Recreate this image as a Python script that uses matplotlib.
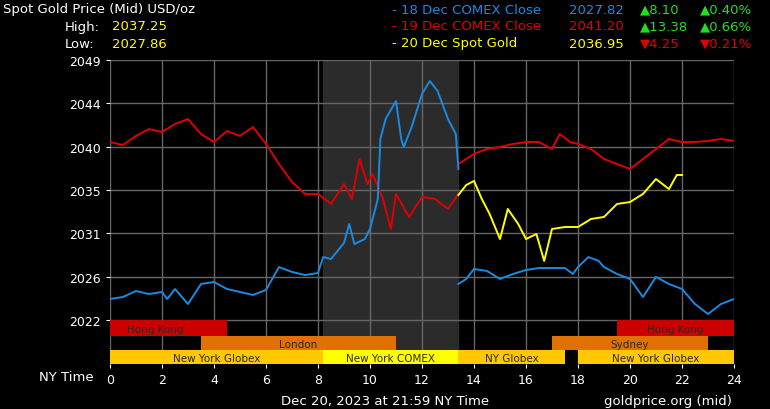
import matplotlib
matplotlib.use("Agg")
import matplotlib.pyplot as plt
import numpy as np

def v(py):
    return [round(2049 - (p - 61) / 9.63, 2) for p in py]

blue1_t = [0,0.5,1,1.5,2,2.2,2.5,3,3.5,4,4.5,5,5.5,6,6.5,7,7.5,8,8.2,8.5,9,9.2,9.4,9.8,10,10.3,10.4,10.6,11,11.2,11.3,11.6,12,12.3,12.6,13,13.3,13.4]
blue1_y = v([300,298,292,295,293,300,290,305,285,283,290,293,296,291,268,273,276,274,258,260,244,225,245,240,230,200,140,120,102,140,148,128,95,82,92,120,135,170])
blue2_t = [13.4,13.7,14,14.5,15,15.5,16,16.5,17,17.5,17.8,18,18.4,18.8,19,19.5,20,20.5,21,21.5,22,22.5,23,23.5,24]
blue2_y = v([285,280,270,272,280,275,271,269,269,269,275,268,258,262,268,275,280,298,278,285,290,305,315,305,300])
red1_t = [0,0.5,1,1.5,2,2.5,3,3.5,4,4.5,5,5.5,6,6.5,7,7.5,8,8.5,9,9.3,9.6,9.9,10.1,10.5,10.8,11,11.5,12,12.5,13,13.4]
red1_y = v([143,146,137,130,133,125,120,135,143,132,137,128,145,165,183,195,195,205,185,200,160,185,175,200,230,195,218,198,200,210,195])
red2_t = [13.4,14,14.5,15,15.5,16,16.5,17,17.3,17.7,18,18.5,19,19.5,20,20.5,21,21.5,22,22.5,23,23.5,24]
red2_y = v([165,155,150,148,145,143,143,150,135,143,145,150,160,165,170,160,150,140,143,143,142,140,142])
yel_t = [13.4,13.7,14,14.3,14.6,15,15.3,15.7,16,16.4,16.7,17,17.5,18,18.5,19,19.5,20,20.5,21,21.5,21.8,22]
yel_y = v([196,186,182,200,215,240,210,225,240,235,262,230,228,228,220,218,205,203,195,180,190,176,176])

yticks = [2022, 2026.5, 2031, 2035.5, 2040, 2044.5, 2049]
xticks = list(range(0, 25, 2))

sessions = [
    (2, 0, 4.5, "Hong Kong", "#cc0000"), (2, 19.5, 24, "Hong Kong", "#cc0000"),
    (1, 3.5, 11, "London", "#e07000"), (1, 17, 23, "Sydney", "#e07000"),
    (0, 0, 8.2, "New York Globex", "#ffc800"), (0, 8.2, 13.4, "New York COMEX", "#ffff00"),
    (0, 13.4, 17.5, "NY Globex", "#ffc800"), (0, 18, 24, "New York Globex", "#ffc800"),
]

fig = plt.figure(figsize=(7.7, 4.1), dpi=100, facecolor="black")
ax = fig.add_axes([110/770, 45/410, 624/770, 304/410], facecolor="black")
ymin = 2022 - 44/9.63
ax.set_xlim(0, 24); ax.set_ylim(ymin, 2049)
ax.axvspan(8.2, 13.4, color="#2b2b2b", zorder=0)
for x in xticks:
    ax.axvline(x, color="#666666", lw=1, zorder=1)
for y in yticks:
    ax.axhline(y, color="#666666", lw=1, zorder=1)
rows = [(0, 14/304), (14/304, 28/304), (28/304, 44/304)]
trans = ax.get_xaxis_transform()
for r, s, e, lab, c in sessions:
    y0, y1 = rows[r]
    ax.add_patch(plt.Rectangle((s, y0), e - s, y1 - y0, transform=trans, color=c, zorder=2, lw=0))
    ax.text((s + e) / 2 - (0.5 if lab == "Hong Kong" and s == 0 else 0), (y0 + y1) / 2 - 0.003, lab,
            transform=trans, ha="center", va="center", fontsize=7.5, color="#2a2a2a", zorder=3)
ax.plot(red1_t, red1_y, color="#e00000", lw=1.4, zorder=4)
ax.plot(red2_t, red2_y, color="#e00000", lw=1.4, zorder=4)
ax.plot(blue1_t, blue1_y, color="#1a8ae0", lw=1.4, zorder=4)
ax.plot(blue2_t, blue2_y, color="#1a8ae0", lw=1.4, zorder=4)
ax.plot(yel_t, yel_y, color="#ffff00", lw=1.4, zorder=5)
ax.set_xticks(xticks); ax.set_xticklabels([str(x) for x in xticks])
ax.set_yticks(yticks); ax.set_yticklabels([str(int(y)) for y in yticks])
ax.tick_params(colors="white", labelsize=9, length=3)
for sp in ax.spines.values():
    sp.set_visible(False)

W, H = 770, 410
def T(x, y, s, c="white", ha="left", size=9.5):
    fig.text(x/W, 1 - y/H, s, color=c, ha=ha, va="center", fontsize=size)
T(3, 10, "Spot Gold Price (Mid) USD/oz")
T(65, 27, "High:"); T(112, 27, "2037.25", "#ffff00")
T(65, 44, "Low:"); T(112, 44, "2027.86", "#ffff00")
T(392, 10, "- 18 Dec COMEX Close", "#1a8ae0"); T(624, 10, "2027.82", "#1a8ae0", "right")
T(392, 27, "- 19 Dec COMEX Close", "#e00000"); T(624, 27, "2041.20", "#e00000", "right")
T(392, 44, "- 20 Dec Spot Gold", "#ffff00"); T(624, 44, "2036.95", "#ffff00", "right")
T(640, 10, "▲8.10", "#22dd22"); T(700, 10, "▲0.40%", "#22dd22")
T(640, 27, "▲13.38", "#22dd22"); T(700, 27, "▲0.66%", "#22dd22")
T(640, 44, "▼4.25", "#e00000"); T(700, 44, "▼0.21%", "#e00000")
T(94, 378, "NY Time", ha="right")
T(385, 402, "Dec 20, 2023 at 21:59 NY Time", ha="center")
T(732, 402, "goldprice.org (mid)", ha="right")
fig.savefig("out.png", dpi=100, facecolor="black")
